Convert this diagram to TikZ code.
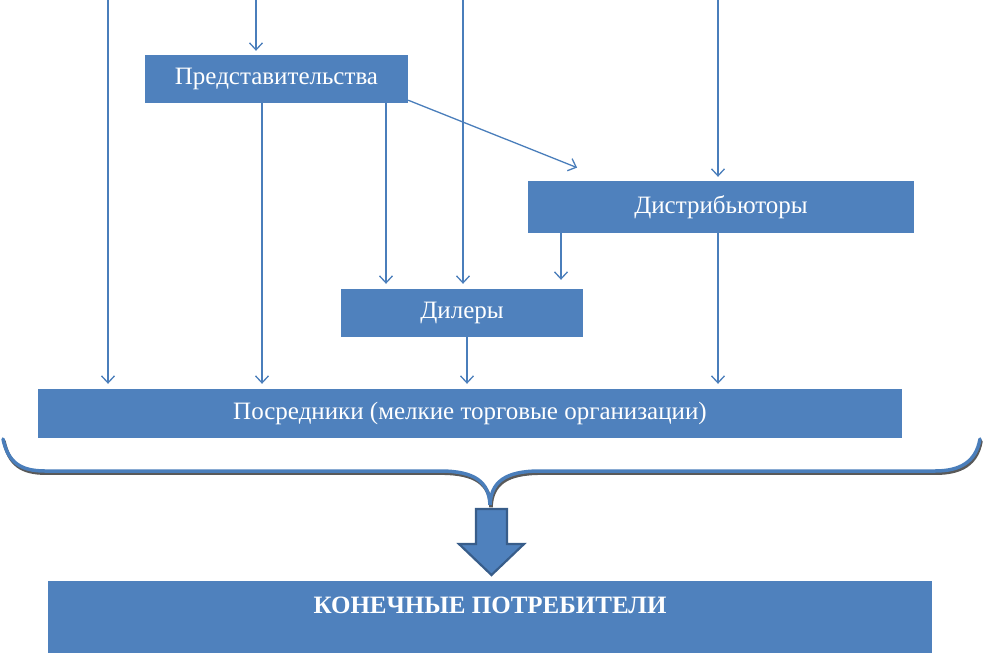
\documentclass[tikz,border=0pt]{standalone}
\usepackage{fontspec}
\setmainfont{Liberation Serif}
\usetikzlibrary{arrows.meta}
\definecolor{boxblue}{HTML}{4F81BD}
\definecolor{lineblue}{HTML}{4A7EBB}
\definecolor{darkblue}{HTML}{385D8A}
\tikzset{
  box/.style={fill=boxblue, draw=none, text=white, font=\fontsize{25}{28}\selectfont, inner sep=0pt},
  conn/.style={draw=lineblue, line width=1.3pt, -{Straight Barb[length=7pt,width=13pt,line width=1.3pt]}, shorten >=1pt},
}
\begin{document}
\begin{tikzpicture}[x=1pt,y=-1pt]
\useasboundingbox (0,0) rectangle (984,653);
% boxes
\node[box, minimum width=263pt, minimum height=48pt] (pred) at (276.5,79) {Представительства};
\node[box, minimum width=386pt, minimum height=52pt] (distr) at (721,207) {Дистрибьюторы};
\node[box, minimum width=242pt, minimum height=48pt] (dil) at (462,313) {Дилеры};
\node[box, minimum width=864pt, minimum height=49pt] (posr) at (470,413.5) {Посредники (мелкие торговые организации)};
\node[box, minimum width=884pt, minimum height=72pt] (kon) at (490,617) {};
\node[text=white, font=\bfseries\fontsize{25}{28}\selectfont, inner sep=0pt] (kontext) at (490,605) {КОНЕЧНЫЕ ПОТРЕБИТЕЛИ};
% free ends / guide coordinates
\coordinate (t1) at (108,0);
\coordinate (t2) at (256,0);
\coordinate (t3) at (463,0);
\coordinate (t4) at (718,0);
\coordinate (c262) at (262,0);
\coordinate (c386) at (386,0);
\coordinate (c561) at (561,0);
\coordinate (c467) at (467,0);
\coordinate (dend) at (578,168);
% connectors
\draw[conn, shorten >=5pt] (t1) -- (posr.north -| t1);
\draw[conn, shorten >=4pt] (t2) -- (pred.north -| t2);
\draw[conn, shorten >=5pt] (t3) -- (dil.north -| t3);
\draw[conn, shorten >=4pt] (t4) -- (distr.north -| t4);
\draw[conn, shorten >=5pt] (pred.south -| c262) -- (posr.north -| c262);
\draw[conn, shorten >=5pt] (pred.south -| c386) -- (dil.north -| c386);
\draw[conn] ([yshift=3pt]pred.south east) -- (dend);
\draw[conn, shorten >=9pt] (distr.south -| c561) -- (dil.north -| c561);
\draw[conn, shorten >=5pt] (distr.south -| t4) -- (posr.north -| t4);
\draw[conn, shorten >=5pt] (dil.south -| c467) -- (posr.north -| c467);
% brace
\def\bracepath{(3,439) .. controls (8,462) and (20,471) .. (45,471) -- (440,471) .. controls (475,471) and (489,482) .. (490,505) .. controls (491,482) and (505,471) .. (540,471) -- (935,471) .. controls (960,471) and (976,462) .. (980,439)}
\draw[black!65, line width=3.5pt, line cap=round] [shift={(1,2.2)}] \bracepath;
\draw[lineblue, line width=3.5pt, line cap=round] \bracepath;
% block arrow
\draw[fill=boxblue, draw=darkblue, line width=2.2pt, line join=miter]
  (476,509) -- (507,509) -- (507,544) -- (524,544) -- (491.5,575) -- (459,544) -- (476,544) -- cycle;
\end{tikzpicture}
\end{document}
